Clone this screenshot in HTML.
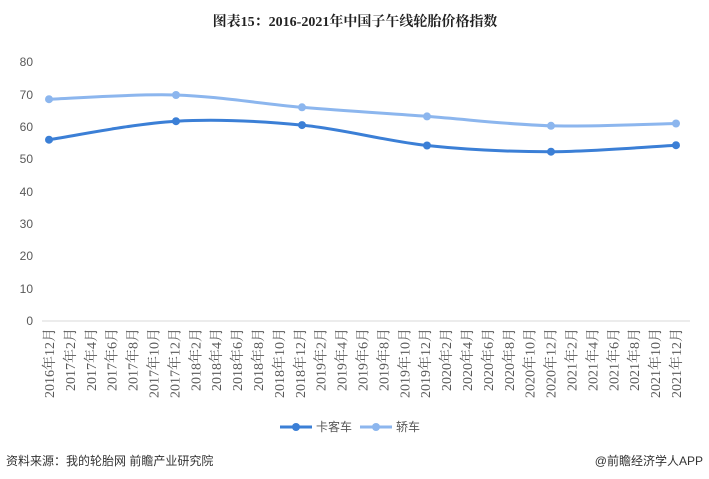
<!DOCTYPE html>
<html><head><meta charset="utf-8"><style>
body{margin:0;background:#fff;}
svg{display:block;font-family:"Liberation Sans","Noto Sans CJK SC",sans-serif;}
</style></head><body>
<svg width="709" height="479" xmlns="http://www.w3.org/2000/svg">
<text x="355" y="26" text-anchor="middle" font-size="14" font-weight="bold" fill="#222" font-family="Liberation Serif,Noto Serif CJK SC,serif">图表15：2016-2021年中国子午线轮胎价格指数</text>
<g font-size="12" fill="#595959" text-anchor="end">
<text x="33" y="325">0</text><text x="33" y="293">10</text><text x="33" y="260">20</text><text x="33" y="228">30</text>
<text x="33" y="196">40</text><text x="33" y="163">50</text><text x="33" y="131">60</text><text x="33" y="99">70</text><text x="33" y="66">80</text>
</g>
<line x1="42" y1="321" x2="690" y2="321" stroke="#d9d9d9" stroke-width="1"/>
<g id="xl" font-size="14" fill="#595959" text-anchor="end" font-family="Liberation Serif,Noto Serif CJK SC,serif"></g>
<path d="M49,139.7 C70.2,136.6 133.8,123.6 176,121.2 C218.2,118.8 260.2,121.05 302,125.1 C343.8,129.15 385.5,141.1 427,145.5 C468.5,149.9 509.5,151.75 551,151.7 C592.5,151.65 655.2,146.3 676,145.2" fill="none" stroke="#3b7fd6" stroke-width="3"/>
<path d="M49,99.2 C70.2,98.5 133.8,93.65 176,95 C218.2,96.35 260.2,103.73 302,107.3 C343.8,110.87 385.5,113.32 427,116.4 C468.5,119.48 509.5,124.62 551,125.8 C592.5,126.98 655.2,123.88 676,123.5" fill="none" stroke="#8cb6ee" stroke-width="3"/>
<g fill="#3b7fd6"><circle cx="49" cy="139.7" r="4"/><circle cx="176" cy="121.2" r="4"/><circle cx="302" cy="125.1" r="4"/><circle cx="427" cy="145.5" r="4"/><circle cx="551" cy="151.7" r="4"/><circle cx="676" cy="145.2" r="4"/></g>
<g fill="#8cb6ee"><circle cx="49" cy="99.2" r="4"/><circle cx="176" cy="95" r="4"/><circle cx="302" cy="107.3" r="4"/><circle cx="427" cy="116.4" r="4"/><circle cx="551" cy="125.8" r="4"/><circle cx="676" cy="123.5" r="4"/></g>
<line x1="280" y1="427" x2="312" y2="427" stroke="#3b7fd6" stroke-width="3"/><circle cx="296" cy="427" r="4" fill="#3b7fd6"/>
<text x="316" y="431" font-size="12" fill="#595959">卡客车</text>
<line x1="360" y1="427" x2="392" y2="427" stroke="#8cb6ee" stroke-width="3"/><circle cx="376" cy="427" r="4" fill="#8cb6ee"/>
<text x="396" y="431" font-size="12" fill="#595959">轿车</text>
<text x="6" y="465" font-size="12" fill="#333">资料来源：我的轮胎网 前瞻产业研究院</text>
<text x="703" y="465" font-size="12" fill="#333" text-anchor="end">@前瞻经济学人APP</text>
</svg>
<script>
var g=document.getElementById('xl'),labs=[],y=2016,m=12;
for(var i=0;i<31;i++){labs.push(y+'年'+m+'月');m+=2;if(m>12){m-=12;y++;}}
labs.forEach(function(t,i){var x=49+i*20.9+5;var e=document.createElementNS('http://www.w3.org/2000/svg','text');
e.setAttribute('transform','translate('+x+',328) rotate(-90)');e.textContent=t;g.appendChild(e);});
</script>
</body></html>
